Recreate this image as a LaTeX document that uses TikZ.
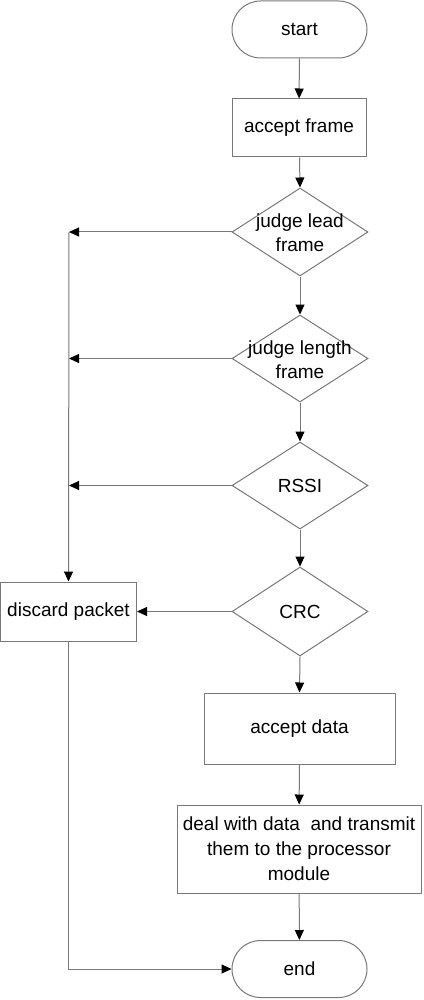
\documentclass[tikz,border=0pt]{standalone}
\usepackage{fontspec}
\setmainfont{Liberation Sans}
\usetikzlibrary{arrows.meta,shapes.geometric}
\definecolor{linegray}{RGB}{120,120,120}
\tikzset{
  every node/.style={font=\fontsize{19}{24}\selectfont, text=black},
  box/.style={draw=linegray, line width=1pt, rectangle, inner sep=0pt, align=center},
  term/.style={draw=linegray, line width=1pt, rectangle, rounded corners=28.5pt, inner sep=0pt, minimum width=135pt, minimum height=57pt},
  dec/.style={draw=linegray, line width=1pt, diamond, inner sep=0pt, minimum width=136pt, minimum height=88pt},
  lbl/.style={align=center, inner sep=0pt},
  arr/.style={draw=linegray, line width=1pt, -{Triangle[length=10pt,width=9pt,color=black]}}
}
\begin{document}
\begin{tikzpicture}[x=1pt,y=-1pt]
\useasboundingbox (0,0) rectangle (423,1000);
\node[term] (start) at (299.5,29.5) {start};
\node[box, minimum width=134pt, minimum height=58pt] (accf) at (299,128) {accept frame};
\node[dec] (lead) at (300,232) {};
\node[lbl] (leadt) at (300,233) {judge lead\\frame};
\node[dec, minimum height=87pt] (len) at (300,358.5) {};
\node[lbl] (lent) at (300,360) {judge length\\frame};
\node[dec, minimum height=87pt] (rssi) at (300,485.5) {};
\node[lbl] (rssit) at (300,485.5) {RSSI};
\node[dec, minimum height=89pt] (crc) at (300,611.5) {};
\node[lbl] (crct) at (300,611.5) {CRC};
\node[box, minimum width=136pt, minimum height=59pt] (disc) at (68.5,611.5) {discard packet};
\node[box, minimum width=191pt, minimum height=71pt] (accd) at (299.5,728.5) {accept data};
\node[box, minimum width=244pt, minimum height=88pt, font=\fontsize{19}{25}\selectfont] (deal) at (299,849) {deal with data\ \ and transmit\\them to the processor\\module};
\node[term] (end) at (299.5,969) {end};
\coordinate (c1) at (69,232);
\coordinate (c2) at (69,358.5);
\coordinate (c3) at (69,485.5);
\draw[arr] (start) -- (accf);
\draw[arr] (accf) -- (lead.north);
\draw[arr] (lead.south) -- (len.north);
\draw[arr] (len.south) -- (rssi.north);
\draw[arr] (rssi.south) -- (crc.north);
\draw[arr] (crc.south) -- (accd.north);
\draw[arr] (accd) -- (deal);
\draw[arr] (deal) -- (end);
\draw[arr] (lead.west) -- (c1);
\draw[arr] (len.west) -- (c2);
\draw[arr] (rssi.west) -- (c3);
\draw[arr] (crc.west) -- (disc.east);
\draw[arr] (c1) -- (disc.north);
\draw[arr] (disc.south) |- (end.west);
\end{tikzpicture}
\end{document}
